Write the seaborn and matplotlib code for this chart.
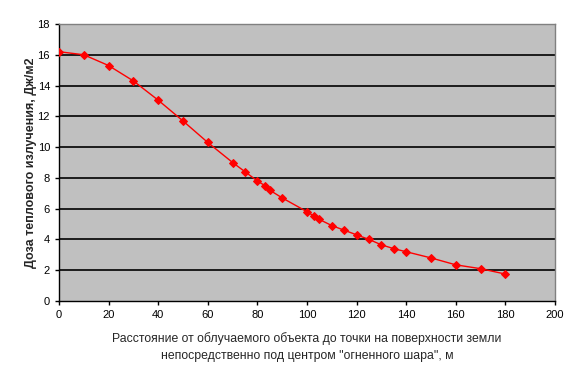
import matplotlib
matplotlib.use("Agg")
import matplotlib.pyplot as plt
import seaborn as sns
import pandas as pd

distance = [0, 10, 20, 30, 40, 50, 60, 70, 75, 80, 83, 85, 90, 100, 103, 105,
            110, 115, 120, 125, 130, 135, 140, 150, 160, 170, 180]
dose = [16.2, 16.0, 15.3, 14.3, 13.05, 11.7, 10.3, 9.0, 8.4, 7.8, 7.5, 7.2, 6.7,
        5.8, 5.5, 5.3, 4.9, 4.6, 4.3, 4.0, 3.65, 3.4, 3.2, 2.8, 2.35, 2.1, 1.75]
x_ticks = [0, 20, 40, 60, 80, 100, 120, 140, 160, 180, 200]
y_ticks = [0, 2, 4, 6, 8, 10, 12, 14, 16, 18]

df = pd.DataFrame({"d": distance, "q": dose})

sns.set_style("ticks")
plt.rcParams["font.family"] = ["Liberation Sans", "DejaVu Sans"]

fig = plt.figure(figsize=(5.81, 3.82), dpi=100)
ax = fig.add_axes([59/581, 81/382, 496/581, 277/382])
ax.set_facecolor("#C0C0C0")
for y in y_ticks[1:]:
    ax.axhline(y, color="black", lw=1.2, zorder=1)

sns.lineplot(data=df, x="d", y="q", ax=ax, color="#FF0000", lw=1,
             marker="D", markersize=4.3, markeredgecolor="#FF0000", zorder=3)

ax.set_xlim(0, 200)
ax.set_ylim(0, 18)
ax.set_xticks(x_ticks)
ax.set_yticks(y_ticks)
ax.tick_params(labelsize=8, length=3, color="black", labelcolor="black", width=1)
ax.spines["left"].set_color("black")
ax.spines["bottom"].set_color("black")
ax.spines["top"].set_color("#808080")
ax.spines["right"].set_color("#808080")
for s in ax.spines.values():
    s.set_linewidth(1)

ax.set_xlabel("Расстояние от облучаемого объекта до точки на поверхности земли\n"
              "непосредственно под центром \"огненного шара\", м",
              fontsize=8.8, labelpad=9, linespacing=1.5)
ax.set_ylabel("Доза теплового излучения, Дж/м2", fontsize=9, fontweight="bold",
              labelpad=0)

fig.savefig("out.png", dpi=100, facecolor="white")
